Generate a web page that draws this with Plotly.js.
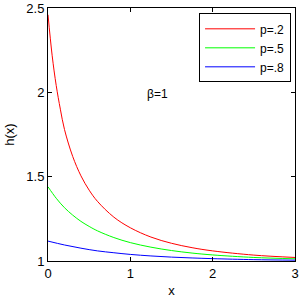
<!DOCTYPE html>
<html><head><meta charset="utf-8">
<script src="https://cdn.plot.ly/plotly-3.0.1.min.js"></script>
<style>html,body{margin:0;padding:0;background:#fff}#c{width:300px;height:300px}</style>
</head><body><div id="c"></div>
<script>
const xRed = [0, 0.05, 0.1, 0.15, 0.2, 0.3, 0.4, 0.5, 0.6, 0.8, 1.0, 1.25, 1.5, 1.75, 2.0, 2.5, 3.0];
const yRed = [2.46, 2.22, 2.04, 1.90, 1.78, 1.62, 1.505, 1.42, 1.354, 1.26, 1.197, 1.142, 1.105, 1.079, 1.06, 1.035, 1.021];
const xGreen = [0, 0.1, 0.2, 0.3, 0.4, 0.5, 0.6, 0.8, 1.0, 1.25, 1.5, 1.75, 2.0, 2.5, 3.0];
const yGreen = [1.44, 1.372, 1.316, 1.272, 1.235, 1.205, 1.179, 1.139, 1.109, 1.082, 1.062, 1.047, 1.036, 1.021, 1.013];
const xBlue = [0, 0.2, 0.4, 0.6, 0.8, 1.0, 1.25, 1.5, 1.75, 2.0, 2.5, 3.0];
const yBlue = [1.118, 1.095, 1.076, 1.06, 1.049, 1.039, 1.03, 1.023, 1.018, 1.014, 1.008, 1.005];
const seriesNames = ["p=.2", "p=.5", "p=.8"];
const xTicks = [0, 1, 2, 3];
const yTicks = [1, 1.5, 2, 2.5];
const yTickText = ["1", "1.5", "2", "2.5"];

const fam = "Liberation Sans, Arial, sans-serif";
const font = {family: fam, size: 13, color: "#000"};
const traces = [
  {x: xRed, y: yRed, name: seriesNames[0], mode: "lines", line: {color: "#ff0000", width: 1, shape: "spline"}},
  {x: xGreen, y: yGreen, name: seriesNames[1], mode: "lines", line: {color: "#00ff00", width: 1, shape: "spline"}},
  {x: xBlue, y: yBlue, name: seriesNames[2], mode: "lines", line: {color: "#0000ff", width: 1, shape: "spline"}}
];
const layout = {
  width: 300, height: 300,
  margin: {l: 48, r: 5, t: 8, b: 39},
  paper_bgcolor: "#fff", plot_bgcolor: "#fff",
  font: font,
  showlegend: true,
  legend: {x: 0.984, y: 0.979, xanchor: "right", yanchor: "top", bgcolor: "#fff",
           bordercolor: "#000", borderwidth: 1, font: {family: fam, size: 12, color: "#000"},
           tracegroupgap: 0, itemwidth: 50},
  xaxis: {range: [0, 3], tickvals: xTicks, ticks: "inside", ticklen: 4, tickcolor: "#000",
          showline: true, linecolor: "#000", linewidth: 1, mirror: "ticks", showgrid: false, zeroline: false,
          tickfont: font, title: {text: "x", font: font, standoff: 6}},
  yaxis: {range: [1, 2.5], tickvals: yTicks, ticktext: yTickText, ticks: "inside", ticklen: 4, tickcolor: "#000",
          showline: true, linecolor: "#000", linewidth: 1, mirror: "ticks", showgrid: false, zeroline: false,
          tickfont: font, title: {text: "h(x)", font: font, standoff: 8}},
  annotations: [{x: 1.33, y: 1.99, xref: "x", yref: "y", text: "β=1", showarrow: false,
                 font: {family: fam, size: 12, color: "#000"}}]
};
Plotly.newPlot("c", traces, layout, {displayModeBar: false, staticPlot: true});
</script></body></html>
